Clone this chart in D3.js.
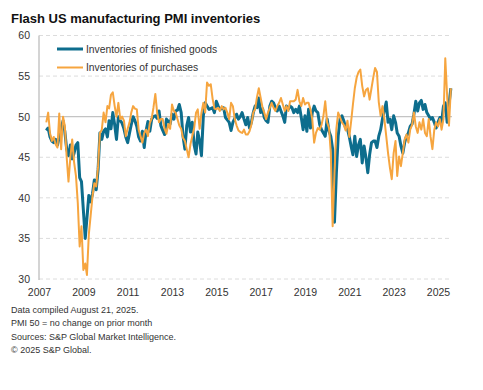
<!DOCTYPE html>
<html>
<head>
<meta charset="utf-8">
<script src="https://cdn.jsdelivr.net/npm/d3@7"></script>
<style>
  body { margin: 0; background: #fff; }
  svg { display: block; font-family: "Liberation Sans", Arial, sans-serif; }
</style>
</head>
<body>
<div id="chart"></div>
<script>
// monthly series, May 2007 .. Aug 2025
const startYear = 2007;
const startMonth = 4; // May
const finishedGoods = [
  48.3, 48.6, 47.5, 47.0, 46.8, 47.2, 46.5, 47.5,
  48.5, 49.5, 48.2, 46.0, 45.2, 46.5, 44.8, 45.5, 46.5, 46.8, 42.5, 42.0,
  38.5, 35.0, 37.5, 40.3, 39.5, 40.5, 42.2, 41.0, 43.5, 48.0, 47.2, 48.2,
  48.5, 47.5, 49.5, 48.5, 50.5, 49.0, 47.2, 50.0, 49.5, 49.2, 48.5, 47.5,
  46.8, 48.0, 49.0, 50.0, 49.5, 48.8, 47.5, 47.0, 48.2, 46.2, 48.3, 49.4,
  48.2, 49.7, 50.0, 50.1, 49.8, 50.7, 48.9, 48.3, 47.8, 49.7, 49.4, 49.1,
  50.3, 49.7, 50.7, 50.8, 51.5, 50.5, 47.6, 46.0, 48.9, 49.9, 48.1, 49.3,
  46.5, 45.4, 48.1, 47.0, 45.2, 50.1, 51.7, 51.3, 50.9, 51.0, 51.1, 50.5,
  51.9, 51.3, 50.9, 51.0, 51.1, 49.9, 49.6, 49.3, 48.3, 49.3, 49.8, 50.3,
  49.7, 50.0, 50.5, 49.7, 49.0, 49.9, 48.6, 49.3, 50.5, 51.3, 51.1, 52.3,
  50.5, 51.0, 49.9, 49.5, 49.3, 51.3, 51.9, 51.7, 51.1, 50.7, 51.3, 50.7,
  50.1, 49.3, 51.3, 50.9, 51.3, 51.1, 50.5, 50.9, 50.5, 51.3, 49.9, 48.4,
  50.1, 48.2, 50.9, 48.6, 50.5, 51.3, 50.7, 50.5, 49.0, 48.4, 48.0, 47.6,
  49.7, 48.2, 47.6, 46.0, 37.0, 43.0, 47.6, 49.7, 50.1, 49.5, 48.6, 48.5,
  47.5, 46.3, 45.3, 47.6, 45.1, 46.5, 47.2, 44.3, 46.4, 45.0, 43.1, 45.3,
  46.8, 47.0, 47.0, 46.2, 47.6, 48.4, 49.7, 50.8, 51.8, 49.3, 49.7, 48.4,
  50.1, 49.3, 48.0, 47.6, 46.4, 45.5, 46.8, 47.6, 48.0, 48.8, 49.1, 50.3,
  51.9, 50.7, 51.7, 52.0, 50.9, 51.5, 50.5, 50.1, 49.7, 49.9, 49.3, 48.6,
  49.3, 49.9, 49.3, 51.3, 51.7, 49.3, 51.5, 53.5
];
const purchases = [
  49.3, 50.5, 48.0, 47.0, 47.5, 46.6, 46.2, 50.4,
  46.0, 50.0, 48.9, 45.0, 42.0, 45.0, 47.2, 44.4, 42.7, 39.4, 34.0, 36.5,
  31.1, 31.9, 30.5, 35.5, 37.8, 40.2, 41.8, 41.4, 43.9, 48.0, 48.4, 50.5,
  49.3, 51.3, 51.0, 52.7, 53.0, 51.3, 50.0, 51.7, 49.7, 50.0, 49.5, 47.6,
  48.5, 49.3, 50.5, 51.3, 51.0, 50.9, 48.4, 47.6, 46.8, 48.0, 48.4, 47.6,
  49.2, 49.8, 51.1, 52.8, 50.5, 49.3, 49.7, 49.7, 48.5, 47.9, 49.1, 48.5,
  51.5, 50.7, 50.5, 49.7, 48.9, 48.5, 47.4, 47.0, 46.0, 45.0, 46.6, 47.6,
  48.6, 50.5, 50.9, 48.5, 50.5, 51.7, 50.5, 54.2, 53.8, 54.0, 52.2, 51.0,
  50.9, 51.1, 50.7, 51.3, 50.9, 51.1, 50.5, 49.7, 51.7, 51.3, 49.7, 48.9,
  48.3, 48.1, 48.0, 48.4, 47.8, 47.8, 48.2, 49.0, 50.5, 50.9, 52.4, 53.5,
  52.3, 51.1, 50.5, 49.7, 50.5, 51.1, 51.7, 51.1, 50.7, 51.3, 51.7, 52.3,
  51.5, 50.7, 51.3, 50.7, 51.9, 51.9, 51.9, 52.1, 53.3, 51.9, 51.3, 52.3,
  51.5, 51.7, 51.7, 50.9, 49.7, 46.8, 48.0, 48.6, 48.4, 49.0, 50.1, 51.9,
  49.3, 48.6, 45.6, 36.5, 43.0, 48.5, 50.5, 49.9, 49.3, 49.0, 48.3, 49.5,
  47.5, 49.5, 51.5, 53.5, 54.8, 55.5, 55.8, 53.8, 52.5, 53.3, 53.5, 52.1,
  53.5, 54.9, 56.0, 55.5, 51.8, 50.1, 51.3, 49.7, 47.6, 45.5, 43.7, 42.3,
  45.5, 47.0, 42.7, 45.1, 43.9, 45.5, 47.2, 47.8, 46.8, 48.4, 49.0, 50.5,
  48.8, 48.0, 49.3, 48.4, 49.7, 48.0, 47.6, 49.7, 47.5, 46.0, 48.4, 49.3,
  48.8, 49.7, 48.4, 49.7, 57.2, 52.5, 48.9, 53.5
];
const seriesNames = ['Inventories of finished goods', 'Inventories of purchases'];
const tickYears = [2007, 2009, 2011, 2013, 2015, 2017, 2019, 2021, 2023, 2025];
const yTicks = [30, 35, 40, 45, 50, 55, 60];
const notes = [
  'Data compiled August 21, 2025.',
  'PMI 50 = no change on prior month',
  'Sources: S&P Global Market Intelligence.',
  '\u00a9 2025 S&P Global.'
];

const width = 483;
const height = 390;
const plotLeft = 39, plotRight = 452, plotTop = 35.5, plotBottom = 279;
const colors = ['#0d6d8d', '#f6a53f'];

const x = d3.scaleTime()
    .domain([new Date(2007, 0, 1), new Date(2025, 0, 1)])
    .range([plotLeft, 438]);
const y = d3.scaleLinear()
    .domain([30, 60])
    .range([plotBottom, plotTop]);

const monthDate = (i) => new Date(startYear, startMonth + i, 1);

const svg = d3.select('#chart')
  .append('svg')
    .attr('width', width)
    .attr('height', height);

svg.append('text')
    .attr('x', 11)
    .attr('y', 23)
    .attr('font-size', 13)
    .attr('font-weight', 'bold')
    .attr('fill', '#111')
    .text('Flash US manufacturing PMI inventories');

// gridlines
svg.append('g')
  .selectAll('line')
  .data(yTicks)
  .join('line')
    .attr('x1', plotLeft)
    .attr('x2', plotRight)
    .attr('y1', (d) => y(d))
    .attr('y2', (d) => y(d))
    .attr('stroke', (d) => d === 50 ? '#c4c4c4' : '#dcdcdc')
    .attr('stroke-width', (d) => d === 50 ? 1.3 : 1)
    .attr('stroke-dasharray', (d) => d === 50 ? null : '4,3');

svg.append('line')
    .attr('x1', plotLeft)
    .attr('x2', plotLeft)
    .attr('y1', plotTop)
    .attr('y2', plotBottom + 1)
    .attr('stroke', '#bdbdbd')
    .attr('stroke-width', 1.3);

const yAxis = svg.append('g')
    .attr('transform', 'translate(' + plotLeft + ',0)')
    .call(d3.axisLeft(y).tickValues(yTicks).tickSize(0).tickPadding(9));
yAxis.select('.domain').remove();
yAxis.selectAll('text')
    .attr('font-size', 10.5)
    .attr('font-family', '"Liberation Sans", Arial, sans-serif')
    .attr('fill', '#333');

const xAxis = svg.append('g')
    .attr('transform', 'translate(0,' + plotBottom + ')')
    .call(d3.axisBottom(x)
      .tickValues(tickYears.map((yr) => new Date(yr, 0, 1)))
      .tickFormat(d3.timeFormat('%Y'))
      .tickSize(0)
      .tickPadding(9.5));
xAxis.select('.domain').remove();
xAxis.selectAll('text')
    .attr('font-size', 10.5)
    .attr('font-family', '"Liberation Sans", Arial, sans-serif')
    .attr('fill', '#333');

const line = d3.line()
    .x((d, i) => x(monthDate(i)))
    .y((d) => y(d));

[finishedGoods, purchases].forEach((series, k) => {
  svg.append('path')
      .datum(series)
      .attr('fill', 'none')
      .attr('stroke', colors[k])
      .attr('stroke-width', k === 0 ? 3 : 2)
      .attr('stroke-linejoin', 'round')
      .attr('d', line);
});

// legend
const legend = svg.append('g')
  .selectAll('g')
  .data(seriesNames)
  .join('g')
    .attr('transform', (d, i) => 'translate(57,' + (49 + i * 18.5) + ')');
legend.append('line')
    .attr('x1', 0)
    .attr('x2', 26)
    .attr('stroke', (d, i) => colors[i])
    .attr('stroke-width', (d, i) => i === 0 ? 3 : 2);
legend.append('text')
    .attr('x', 29)
    .attr('dy', '0.35em')
    .attr('font-size', 10.3)
    .attr('fill', '#333')
    .text((d) => d);

svg.append('g')
  .selectAll('text')
  .data(notes)
  .join('text')
    .attr('x', 11)
    .attr('y', (d, i) => 313 + i * 13.3)
    .attr('font-size', 9)
    .attr('fill', '#333')
    .text((d) => d);
</script>
</body>
</html>
